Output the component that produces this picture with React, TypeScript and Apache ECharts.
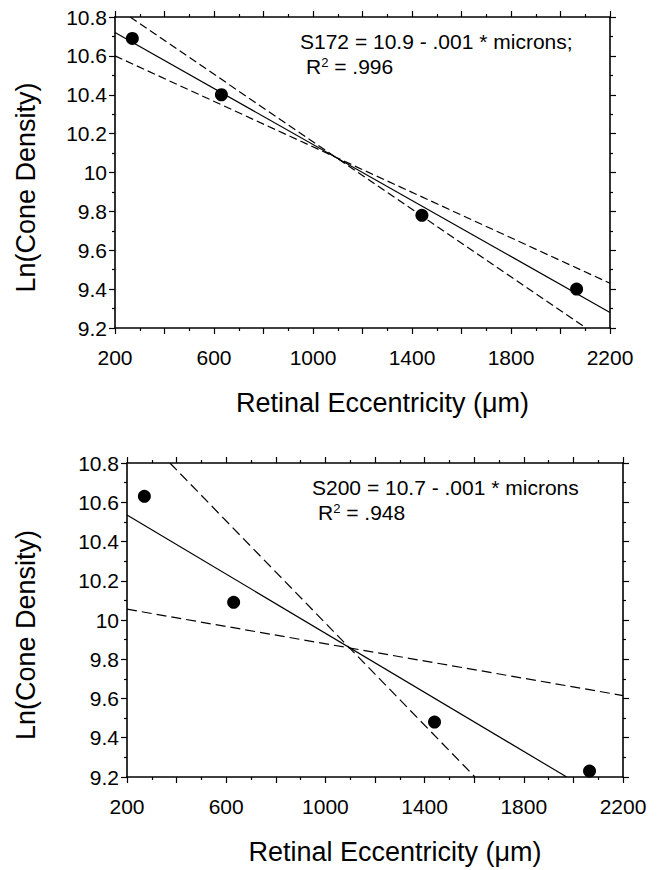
import React, { useEffect, useRef } from "react";
import * as echarts from "echarts";

// ---- data ----
const eccentricity = [270, 630, 1440, 2065];
const densityS172 = [10.69, 10.4, 9.78, 9.4];
const densityS200 = [10.63, 10.09, 9.48, 9.23];

// regression line and confidence lines, endpoints [microns, ln density]
const fitS172 = [[200, 10.72], [2200, 9.28]];
const upperS172 = [[261, 10.8], [2103, 9.2]];
const lowerS172 = [[200, 10.6], [2200, 9.43]];

const fitS200 = [[200, 10.535], [1973, 9.2]];
const steepS200 = [[373, 10.8], [1603, 9.2]];
const shallowS200 = [[200, 10.055], [2200, 9.615]];

const xRange = [200, 2200];
const xStep = 200;
const xLabelStep = 400;
const yRange = [9.2, 10.8];
const yStep = 0.2;

const eqS172 = "S172 = 10.9 - .001 * microns;";
const r2S172 = ".996";
const eqS200 = "S200 = 10.7 - .001 * microns";
const r2S200 = ".948";

const xTitle = "Retinal Eccentricity (\u03bcm)";
const yTitle = "Ln(Cone Density)";

const FONT = '"Liberation Sans", Arial, Helvetica, sans-serif';

const grids = [
  { left: 115, top: 17, width: 495, height: 311 },
  { left: 127, top: 463, width: 496, height: 314 },
];

function xAxes(gridIndex: number) {
  const common: any = {
    type: "value",
    gridIndex,
    min: xRange[0],
    max: xRange[1],
    interval: xStep,
    splitLine: { show: false },
    axisLine: { show: true, onZero: false, lineStyle: { color: "#000", width: 1.6 } },
    axisTick: { show: true, inside: false, length: 6, lineStyle: { color: "#000", width: 1.2 } },
    minorTick: { show: true, splitNumber: 2, length: 3, lineStyle: { color: "#000", width: 1.2 } },
    minorSplitLine: { show: false },
  };
  return [
    {
      ...common,
      position: "bottom",
      name: xTitle,
      nameLocation: "middle",
      nameGap: 61,
      nameTextStyle: { fontFamily: FONT, fontSize: 27, color: "#000", padding: [0, 0, 0, 40] },
      axisLabel: {
        show: true,
        margin: 19,
        fontFamily: FONT,
        fontSize: 21,
        color: "#000",
        formatter: (v: number) =>
          Math.abs((v - xRange[0]) % xLabelStep) < 1e-6 ? String(v) : "",
      },
    },
    { ...common, position: "top", axisLabel: { show: false } },
  ];
}

function yAxes(gridIndex: number, gap: number) {
  const common: any = {
    type: "value",
    gridIndex,
    min: yRange[0],
    max: yRange[1],
    interval: yStep,
    splitLine: { show: false },
    axisLine: { show: true, onZero: false, lineStyle: { color: "#000", width: 1.6 } },
    axisTick: { show: true, inside: false, length: 6, lineStyle: { color: "#000", width: 1.2 } },
    minorTick: { show: true, splitNumber: 2, length: 3, lineStyle: { color: "#000", width: 1.2 } },
    minorSplitLine: { show: false },
  };
  return [
    {
      ...common,
      position: "left",
      name: yTitle,
      nameLocation: "middle",
      nameGap: gap,
      nameTextStyle: { fontFamily: FONT, fontSize: 27, color: "#000", padding: [0, 30, 0, 0] },
      axisLabel: {
        show: true,
        margin: 8,
        fontFamily: FONT,
        fontSize: 21,
        color: "#000",
        padding: [6, 0, 0, 0],
        formatter: (v: number) => String(Math.round(v * 10) / 10),
      },
    },
    { ...common, position: "right", axisLabel: { show: false } },
  ];
}

function chartSeries(
  xIdx: number,
  yIdx: number,
  dens: number[],
  fit: number[][],
  a: number[][],
  b: number[][],
  dash: number[]
) {
  const line = (data: number[][], dashed: boolean) => ({
    type: "line",
    xAxisIndex: xIdx,
    yAxisIndex: yIdx,
    data,
    symbol: "none",
    silent: true,
    lineStyle: { color: "#000", width: 1.2, type: dashed ? dash : "solid" },
    z: 2,
  });
  return [
    line(fit, false),
    line(a, true),
    line(b, true),
    {
      type: "scatter",
      xAxisIndex: xIdx,
      yAxisIndex: yIdx,
      data: eccentricity.map((x, i) => [x, dens[i]]),
      symbol: "circle",
      symbolSize: 13,
      itemStyle: { color: "#000", opacity: 1 },
      z: 3,
    },
  ];
}

function annotation(left: number, top: number, eq: string, r2: string) {
  return [
    {
      type: "text",
      left,
      top,
      style: { text: eq, fontFamily: FONT, fontSize: 21, fill: "#000" },
    },
    {
      type: "text",
      left: left + 6,
      top: top + 25,
      style: {
        text: "{a|R}{s|2}{a| = " + r2 + "}",
        rich: {
          a: { fontFamily: FONT, fontSize: 21, fill: "#000", color: "#000" },
          s: { fontFamily: FONT, fontSize: 13, fill: "#000", color: "#000", verticalAlign: "top", padding: [0, 0, 8, 0] },
        },
      },
    },
  ];
}

export default function App() {
  const ref = useRef<HTMLDivElement>(null);
  useEffect(() => {
    if (!ref.current) return;
    const chart = echarts.init(ref.current, undefined, { renderer: "svg" });
    const option: any = {
      animation: false,
      backgroundColor: "#fff",
      grid: grids.map((g) => ({ ...g, containLabel: false, outerBoundsMode: "none" })),
      xAxis: [...xAxes(0), ...xAxes(1)],
      yAxis: [...yAxes(0, 76), ...yAxes(1, 88)],
      series: [
        ...chartSeries(0, 0, densityS172, fitS172, upperS172, lowerS172, [8, 4]),
        ...chartSeries(2, 2, densityS200, fitS200, steepS200, shallowS200, [10, 5]),
      ],
      graphic: [
        ...annotation(300, 31, eqS172, r2S172),
        ...annotation(312, 477, eqS200, r2S200),
      ],
    };
    chart.setOption(option);
    return () => chart.dispose();
  }, []);
  return (
    <div
      ref={ref}
      style={{ position: "absolute", left: 0, top: 0, width: 661, height: 870, background: "#fff" }}
    />
  );
}
